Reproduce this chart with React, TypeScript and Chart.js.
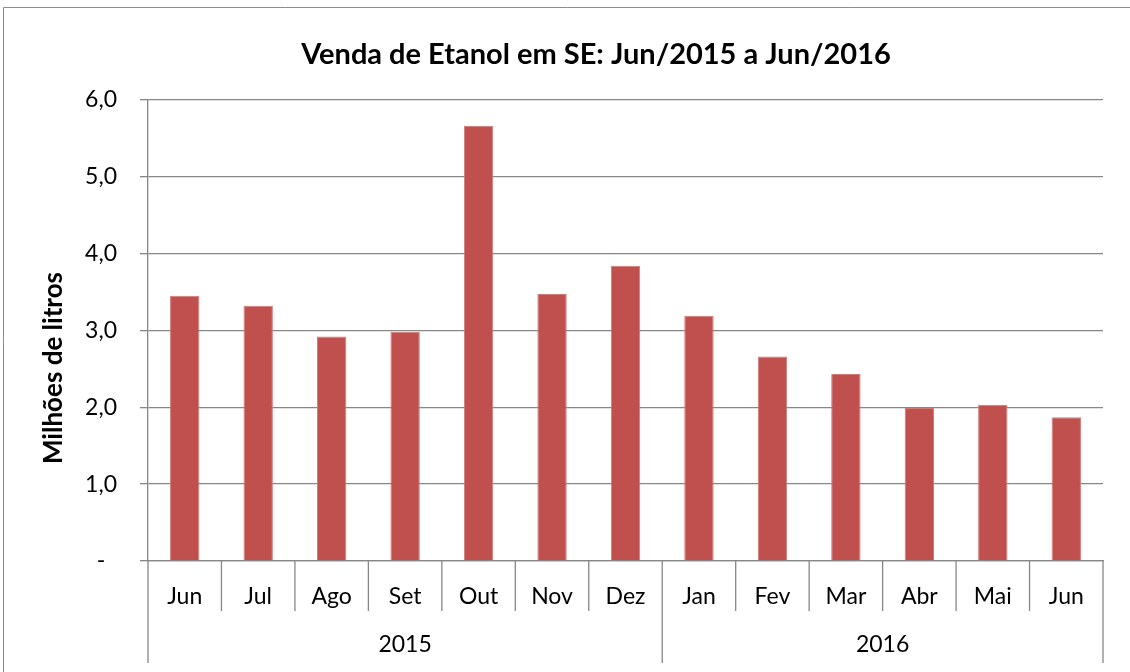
import React, { useEffect, useRef } from "react";
import { Chart, registerables } from "chart.js";

Chart.register(...registerables);

const months = ["Jun", "Jul", "Ago", "Set", "Out", "Nov", "Dez", "Jan", "Fev", "Mar", "Abr", "Mai", "Jun"];
const years = ["2015", "2016"];
const monthsPerYear = [7, 6];
const sales = [3.45, 3.32, 2.92, 2.98, 5.66, 3.47, 3.84, 3.19, 2.66, 2.43, 1.99, 2.03, 1.87];
const yTicks = [0, 1, 2, 3, 4, 5, 6];

const chartTitle = "Venda de Etanol em SE: Jun/2015 a Jun/2016";
const yTitle = "Milhões de litros";

const FONT = "Lato, 'Open Sans', sans-serif";
const GRID = "#878787";

const decorPlugin = {
  id: "decor",
  afterDraw(chart: any) {
    const ctx = chart.ctx;
    const area = chart.chartArea;
    const x = chart.scales.x;
    ctx.save();
    // outer border (left & top visible)
    ctx.strokeStyle = "#8c8c8c";
    ctx.lineWidth = 1;
    ctx.beginPath();
    ctx.moveTo(3.5, 700);
    ctx.lineTo(3.5, 7.5);
    ctx.lineTo(1200, 7.5);
    ctx.stroke();

    // title
    ctx.fillStyle = "#000";
    ctx.font = `bold 29px ${FONT}`;
    ctx.textAlign = "center";
    ctx.textBaseline = "middle";
    ctx.fillText(chartTitle, 596, 55);

    // y title
    ctx.save();
    ctx.translate(54, 368);
    ctx.rotate(-Math.PI / 2);
    ctx.font = `bold 26px ${FONT}`;
    ctx.fillText(yTitle, 0, 0);
    ctx.restore();

    // multi-level category separators
    const half = (x.getPixelForValue(1) - x.getPixelForValue(0)) / 2;
    const bottom = area.bottom;
    ctx.strokeStyle = GRID;
    ctx.lineWidth = 1.3;
    ctx.beginPath();
    for (let i = 0; i <= months.length; i++) {
      const px = i < months.length ? x.getPixelForValue(i) - half : x.getPixelForValue(months.length - 1) + half;
      ctx.moveTo(px, bottom);
      ctx.lineTo(px, bottom + 50);
    }
    let idx = 0;
    const yearBounds: number[] = [0];
    monthsPerYear.forEach((n) => {
      idx += n;
      yearBounds.push(idx);
    });
    yearBounds.forEach((b) => {
      const px = b < months.length ? x.getPixelForValue(b) - half : x.getPixelForValue(months.length - 1) + half;
      ctx.moveTo(px, bottom);
      ctx.lineTo(px, bottom + 102);
    });
    ctx.stroke();

    // year labels
    ctx.fillStyle = "#000";
    ctx.font = `23px ${FONT}`;
    ctx.textAlign = "center";
    ctx.textBaseline = "middle";
    years.forEach((yr, k) => {
      const a = x.getPixelForValue(yearBounds[k]) - half;
      const b = x.getPixelForValue(yearBounds[k + 1] - 1) + half;
      ctx.fillText(yr, (a + b) / 2, bottom + 84);
    });
    ctx.restore();
  },
};

export default function App() {
  const ref = useRef<HTMLCanvasElement>(null);
  useEffect(() => {
    if (!ref.current) return;
    const chart = new Chart(ref.current, {
      type: "bar",
      data: {
        labels: months,
        datasets: [
          {
            data: sales,
            backgroundColor: "#C0504D",
            borderColor: "#d07a78",
            borderWidth: 1,
            barPercentage: 0.4,
            categoryPercentage: 1,
          },
        ],
      },
      options: {
        animation: false,
        responsive: false,
        maintainAspectRatio: false,
        layout: { padding: { top: 99.5, left: 0, right: 27, bottom: 0 } },
        plugins: { legend: { display: false }, title: { display: false }, tooltip: { enabled: false } },
        scales: {
          x: {
            offset: true,
            grid: { display: false },
            border: { display: true, color: GRID, width: 1.3 },
            ticks: { color: "#000", font: { family: FONT, size: 23 }, padding: 14, maxRotation: 0, autoSkip: false },
            afterFit: (s: any) => {
              s.height = 111;
            },
          },
          y: {
            min: 0,
            max: 6,
            afterBuildTicks: (s: any) => {
              s.ticks = yTicks.map((v) => ({ value: v }));
            },
            grid: { color: GRID, lineWidth: 1.3, drawTicks: true, tickLength: 8 },
            border: { display: true, color: GRID, width: 1.3 },
            ticks: {
              color: "#000",
              font: { family: FONT, size: 23 },
              padding: 23,
              callback: (v: any) => (Number(v) === 0 ? "-  " : Number(v).toFixed(1).replace(".", ",")),
            },
            afterFit: (s: any) => {
              s.width = 148;
            },
          },
        },
      },
      plugins: [decorPlugin],
    });
    return () => chart.destroy();
  }, []);
  return (
    <div style={{ position: "absolute", left: 0, top: 0, width: 1130, height: 672 }}>
      <canvas ref={ref} width={1130} height={672} style={{ width: 1130, height: 672, display: "block" }} />
    </div>
  );
}
